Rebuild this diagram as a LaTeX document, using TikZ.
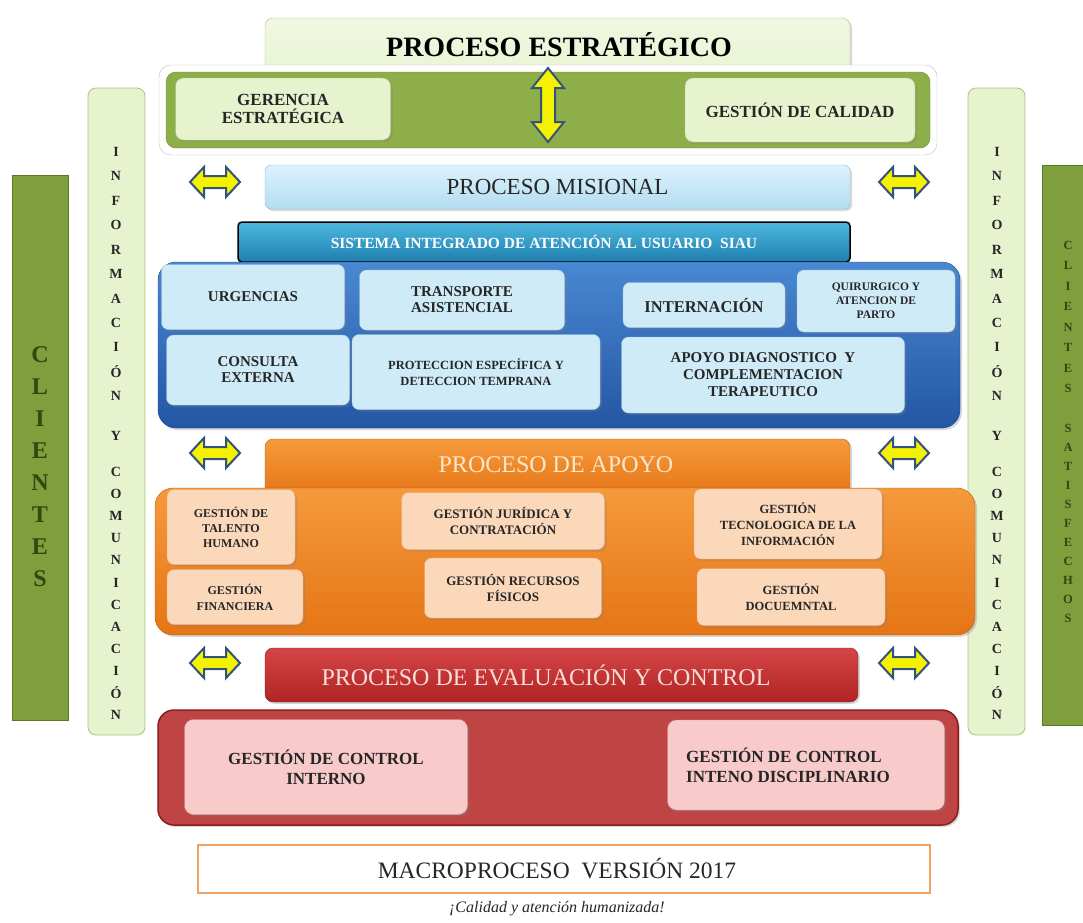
\documentclass[tikz,border=0pt]{standalone}
\usepackage{fontspec}
\setmainfont{Liberation Serif}
\usetikzlibrary{shadows}
\definecolor{lgreen}{HTML}{E6F3CE}
\definecolor{lgreenB}{HTML}{A9C57E}
\definecolor{olive}{HTML}{8DAE48}
\definecolor{oliveD}{HTML}{6E8E30}
\definecolor{cliG}{HTML}{7E9F3C}
\definecolor{cliGD}{HTML}{5A7A22}
\definecolor{cliTxt}{HTML}{2E4A12}
\definecolor{mblueT}{HTML}{DDF2FC}
\definecolor{mblueB}{HTML}{B3DCF2}
\definecolor{mblueE}{HTML}{8FBAD6}
\definecolor{siauT}{HTML}{4DB8DE}
\definecolor{siauB}{HTML}{1F7FB0}
\definecolor{bigblueT}{HTML}{4A88D2}
\definecolor{bigblueB}{HTML}{2356A4}
\definecolor{inblue}{HTML}{CFEBF8}
\definecolor{inblueE}{HTML}{9CC9E4}
\definecolor{orT}{HTML}{F59A3C}
\definecolor{orB}{HTML}{E57516}
\definecolor{peach}{HTML}{FCD8BA}
\definecolor{peachE}{HTML}{E8A878}
\definecolor{redT}{HTML}{D54545}
\definecolor{redB}{HTML}{B02424}
\definecolor{redBig}{HTML}{BF4545}
\definecolor{redD}{HTML}{8C1E1E}
\definecolor{pink}{HTML}{F8CACA}
\definecolor{pinkE}{HTML}{D89090}
\definecolor{arrY}{HTML}{F5F200}
\definecolor{arrB}{HTML}{33527E}
\definecolor{txt}{HTML}{262626}
\definecolor{cream}{HTML}{FCE6C8}
\definecolor{rosetxt}{HTML}{F8DEDA}
\definecolor{macroE}{HTML}{F0A060}
\tikzset{
  shd/.style={drop shadow={shadow xshift=2pt,shadow yshift=-2pt,opacity=0.3}},
  gbox/.style={draw=lgreenB,fill=lgreen,rounded corners=8pt,align=center,text=txt,inner sep=2pt,shd},
  bbox/.style={draw=inblueE,fill=inblue,rounded corners=7pt,align=center,text=txt,inner sep=2pt,shd},
  obox/.style={draw=peachE,fill=peach,rounded corners=7pt,align=center,text=txt,inner sep=2pt,shd},
  rbox/.style={draw=pinkE,fill=pink,rounded corners=9pt,align=center,text=txt,inner sep=2pt,shd},
  colbox/.style={draw=lgreenB,fill=lgreen,rounded corners=8pt,line width=0.8pt},
  clibox/.style={draw=cliGD,fill=cliG,line width=1pt},
  coltxt/.style={text=txt,font=\fontsize{14}{14}\selectfont\bfseries,inner sep=0pt},
  clitxt/.style={text=cliTxt,font=\fontsize{24}{24}\selectfont\bfseries,inner sep=0pt},
  satxt/.style={text=cliTxt,font=\fontsize{12.5}{12.5}\selectfont\bfseries,inner sep=0pt},
  arrsty/.style={draw=arrB,fill=arrY,line width=2pt,line join=miter},
  harrow/.pic={\draw[arrsty] (-25,0) -- (-11,-15) -- (-11,-6) -- (11,-6) -- (11,-15) -- (25,0) -- (11,15) -- (11,6) -- (-11,6) -- (-11,15) -- cycle;},
  varrow/.pic={\draw[arrsty] (0,-37) -- (-16,-17) -- (-7,-17) -- (-7,17) -- (-16,17) -- (0,37) -- (16,17) -- (7,17) -- (7,-17) -- (16,-17) -- cycle;}
}
\begin{document}
\begin{tikzpicture}[x=1pt,y=-1pt]
\useasboundingbox[fill=white] (0,0) rectangle (1083,922);

% ---- side columns
\node[clibox,minimum width=56pt,minimum height=545pt] (cliL) at (40,447.5) {};
\node[clibox,minimum width=50pt,minimum height=560pt] (cliR) at (1067,445) {};
\node[colbox,minimum width=57pt,minimum height=647pt] (infoL) at (116.5,411.5) {};
\node[colbox,minimum width=57pt,minimum height=647pt] (infoR) at (996.5,411.5) {};

\foreach \l [count=\i] in {I,N,F,O,R,M,A,C,I,Ó,N} {
  \node[coltxt] (iL\i) at (116,{152+(\i-1)*24.4}) {\l};
  \node[coltxt] (iR\i) at (997,{152+(\i-1)*24.4}) {\l};
}
\node[coltxt] (iLy) at (116,436) {Y};
\node[coltxt] (iRy) at (997,436) {Y};
\foreach \l [count=\i] in {C,O,M,U,N,I,C,A,C,I,Ó,N} {
  \node[coltxt] (cL\i) at (116,{472+(\i-1)*22.1}) {\l};
  \node[coltxt] (cR\i) at (997,{472+(\i-1)*22.1}) {\l};
}
\foreach \l [count=\i] in {C,L,I,E,N,T,E,S} {
  \node[clitxt] (kL\i) at (40,{355+(\i-1)*32}) {\l};
  \node[satxt] (kR\i) at (1068,{245+(\i-1)*20.5}) {\l};
}
\foreach \l [count=\i] in {S,A,T,I,S,F,E,C,H,O,S} {
  \node[satxt] (sR\i) at (1068,{428+(\i-1)*19}) {\l};
}

% ---- strategic
\node[draw=lgreenB,top color=lgreen!60!white,bottom color=lgreen,rounded corners=8pt,minimum width=585pt,minimum height=82pt,shd] (estr) at (557.5,59) {};
\node[font=\fontsize{28}{28}\selectfont\bfseries,text=black] (estrT) at (559,45) {PROCESO ESTRATÉGICO};
\node[draw=black!25,fill=white,rounded corners=12pt,minimum width=778pt,minimum height=90pt] (glow) at (548,110) {};
\node[draw=oliveD,fill=olive,rounded corners=10pt,minimum width=764pt,minimum height=76pt] (band) at (548,110) {};
\node[gbox,minimum width=215pt,minimum height=62pt,font=\fontsize{17}{18}\selectfont\bfseries] (ger) at (283,109) {GERENCIA\\ESTRATÉGICA};
\node[gbox,minimum width=230pt,minimum height=64pt,font=\fontsize{17}{18}\selectfont\bfseries] (cal) at (800,110) {GESTIÓN DE CALIDAD};
\pic at (548,105) {varrow};

% ---- horizontal arrows
\foreach \yy in {182,453,663} {
  \pic at (215,\yy) {harrow};
  \pic at (904,\yy) {harrow};
}

% ---- misional
\node[draw=mblueE,top color=mblueT,bottom color=mblueB,rounded corners=6pt,minimum width=585pt,minimum height=44pt,shd,font=\fontsize{23}{23}\selectfont,text=txt] (mis) at (557.5,187) {PROCESO MISIONAL};
\node[draw=black,line width=1.5pt,top color=siauT,bottom color=siauB,rounded corners=4pt,minimum width=612pt,minimum height=40pt,font=\fontsize{15.5}{15.5}\selectfont\bfseries,text=white] (siau) at (544,242) {SISTEMA INTEGRADO DE ATENCIÓN AL USUARIO\ \ SIAU};
\node[draw=bigblueB!80!black,top color=bigblueT,bottom color=bigblueB,rounded corners=18pt,minimum width=802pt,minimum height=166pt,shd] (blue) at (559,345) {};
\node[bbox,minimum width=183pt,minimum height=65pt,font=\fontsize{15}{16}\selectfont\bfseries] (urg) at (253,297) {URGENCIAS};
\node[bbox,minimum width=205pt,minimum height=60pt,font=\fontsize{15}{16}\selectfont\bfseries] (tra) at (462,300) {TRANSPORTE\\ASISTENCIAL};
\node[bbox,minimum width=162pt,minimum height=45pt,font=\fontsize{16.5}{17}\selectfont\bfseries] (int) at (704,305) {INTERNACIÓN};
\node[bbox,minimum width=158pt,minimum height=62pt,font=\fontsize{11.5}{14}\selectfont\bfseries] (qui) at (876,301) {QUIRURGICO Y\\ATENCION DE\\PARTO};
\node[bbox,minimum width=183pt,minimum height=70pt,font=\fontsize{15}{16}\selectfont\bfseries] (con) at (258,370) {CONSULTA\\EXTERNA};
\node[bbox,minimum width=248pt,minimum height=75pt,font=\fontsize{12.5}{16}\selectfont\bfseries] (pro) at (476,372) {PROTECCION ESPECÍFICA Y\\DETECCION TEMPRANA};
\node[bbox,minimum width=283pt,minimum height=76pt,font=\fontsize{15}{17}\selectfont\bfseries] (apd) at (763,375) {APOYO DIAGNOSTICO\ \ Y\\COMPLEMENTACION\\TERAPEUTICO};

% ---- apoyo
\node[draw=orB!80!black,top color=orT,bottom color=orB,rounded corners=8pt,minimum width=585pt,minimum height=58pt,shd] (apo) at (557.5,468) {};
\node[draw=orB!80!black,top color=orT,bottom color=orB,rounded corners=18pt,minimum width=820pt,minimum height=147pt,shd] (orange) at (565,561.5) {};
\node[font=\fontsize{24}{24}\selectfont,text=cream] (apoT) at (556,465) {PROCESO DE APOYO};
\node[obox,minimum width=128pt,minimum height=75pt,font=\fontsize{12}{15}\selectfont\bfseries] (tal) at (231,527) {GESTIÓN DE\\TALENTO\\HUMANO};
\node[obox,minimum width=136pt,minimum height=55pt,font=\fontsize{12}{16}\selectfont\bfseries] (fin) at (235,597) {GESTIÓN\\FINANCIERA};
\node[obox,minimum width=203pt,minimum height=57pt,font=\fontsize{13}{16}\selectfont\bfseries] (jur) at (503,521) {GESTIÓN JURÍDICA Y\\CONTRATACIÓN};
\node[obox,minimum width=177pt,minimum height=60pt,font=\fontsize{13}{16}\selectfont\bfseries] (rec) at (513,588) {GESTIÓN RECURSOS\\FÍSICOS};
\node[obox,minimum width=188pt,minimum height=70pt,font=\fontsize{12.5}{16}\selectfont\bfseries] (tec) at (788,524) {GESTIÓN\\TECNOLOGICA DE LA\\INFORMACIÓN};
\node[obox,minimum width=188pt,minimum height=57pt,font=\fontsize{12.5}{16}\selectfont\bfseries] (doc) at (791,597) {GESTIÓN\\DOCUEMNTAL};

% ---- evaluacion y control
\node[draw=redD,top color=redT,bottom color=redB,rounded corners=8pt,minimum width=593pt,minimum height=54pt,shd] (eva) at (561.5,675) {};
\node[font=\fontsize{24}{24}\selectfont,text=rosetxt] (evaT) at (546,675) {PROCESO DE EVALUACIÓN Y CONTROL};
\node[draw=redD,line width=1.5pt,fill=redBig,rounded corners=16pt,minimum width=800pt,minimum height=115pt,shd] (red) at (558,767.5) {};
\node[rbox,minimum width=283pt,minimum height=95pt,font=\fontsize{17}{20}\selectfont\bfseries] (cin) at (326,767) {GESTIÓN DE CONTROL\\INTERNO};
\node[rbox,minimum width=277pt,minimum height=90pt] (cid) at (806,765) {};
\node[font=\fontsize{17}{20}\selectfont\bfseries,align=left,text=txt] (cidT) at (788,765) {GESTIÓN DE CONTROL\\INTENO DISCIPLINARIO};

% ---- footer
\node[draw=macroE,line width=1.5pt,fill=white,minimum width=732pt,minimum height=48pt] (mac) at (564,869) {};
\node[font=\fontsize{23.5}{23.5}\selectfont,text=txt] (macT) at (557,869) {MACROPROCESO\ \ VERSIÓN 2017};
\node[font=\fontsize{16}{16}\selectfont\itshape,text=txt] (tag) at (557,909) {¡Calidad y atención humanizada!};
\end{tikzpicture}
\end{document}
